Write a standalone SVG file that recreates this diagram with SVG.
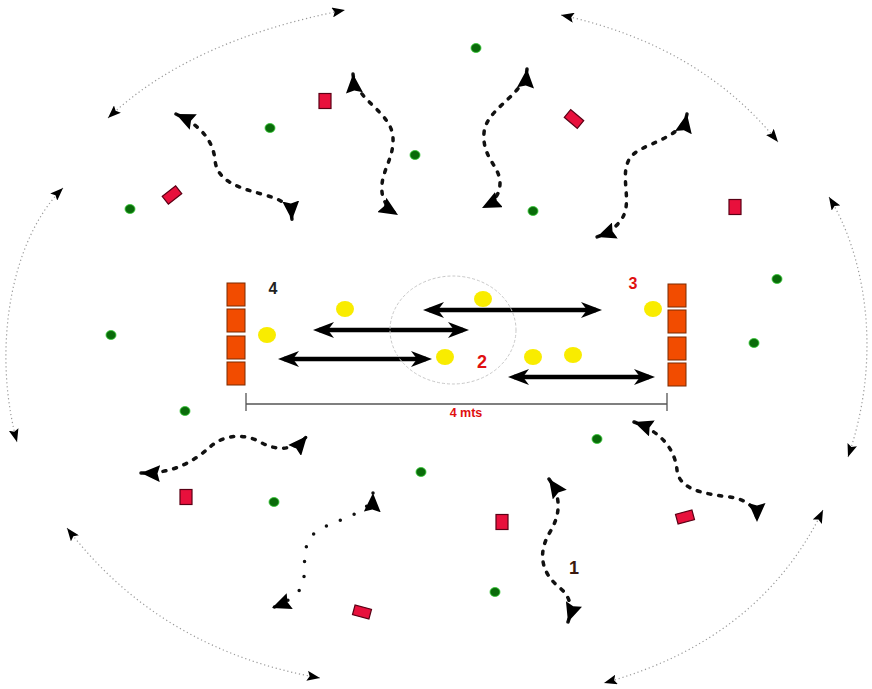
<svg xmlns="http://www.w3.org/2000/svg" width="872" height="689" viewBox="0 0 872 689">
<defs>
<style>
.arc{fill:none;stroke:#999;stroke-width:1.2;stroke-dasharray:1.2 2.8;marker-start:url(#sm);marker-end:url(#sm)}
.wave{fill:none;stroke:#111;stroke-width:3.5;stroke-dasharray:3 8;stroke-linecap:round;marker-start:url(#big);marker-end:url(#big)}
.dots{fill:none;stroke:#111;stroke-width:3.5;stroke-dasharray:0 15;stroke-linecap:round;marker-start:url(#big);marker-end:url(#big)}
.dbl{fill:none;stroke:#000;stroke-width:4.5;marker-start:url(#dh);marker-end:url(#dh)}
.cone{fill:#F24C00;stroke:#7a2a00;stroke-width:1}
.ball{fill:#F9EC00}
.dot{fill:#0a6b0a;stroke:#33cc33;stroke-width:0.8}
.mk{fill:#E8103C;stroke:#5a0015;stroke-width:1.2}
.lbl{font-family:"Liberation Sans",Arial,sans-serif;font-weight:bold;text-anchor:middle}
</style>
<marker id="sm" viewBox="0 0 13 10" refX="13" refY="5" markerWidth="13" markerHeight="10" markerUnits="userSpaceOnUse" orient="auto-start-reverse"><path d="M0,0 L13,5 L0,10 L2.5,5 z" fill="#000"/></marker>
<marker id="big" viewBox="0 0 19 17" refX="19" refY="8.5" markerWidth="19" markerHeight="17" markerUnits="userSpaceOnUse" orient="auto-start-reverse"><path d="M0,0 L19,8.5 L0,17 L2.5,8.5 z" fill="#000"/></marker>
<marker id="dh" viewBox="0 0 21 16" refX="15" refY="8" markerWidth="21" markerHeight="16" markerUnits="userSpaceOnUse" orient="auto-start-reverse"><path d="M0,0 L21,8 L0,16 L6,8 z" fill="#000"/></marker>
</defs>
<rect width="872" height="689" fill="#fff"/>

<g id="connectors">
<g id="outer-arcs">
<path class="arc" d="M108,118 Q190,40 345,10"/>
<path class="arc" d="M63,188 C10,240 -8,350 17,442"/>
<path class="arc" d="M67,528 Q160,650 320,678"/>
<path class="arc" d="M561,15 Q700,45 778,142"/>
<path class="arc" d="M829,197 C862,250 885,350 848,457"/>
<path class="arc" d="M823,510 Q760,640 604,683"/>
</g>
<g id="runs">
<path class="wave" d="M176,114 C200,125 213,140 215,160 C217,182 240,188 265,195 C283,200 291,205 292,220"/>
<path class="wave" d="M353,74 C355,100 392,112 393,138 C394,160 380,172 382,192 C383,203 390,210 398,215"/>
<path class="wave" d="M527,69 C525,95 486,108 484,133 C482,158 500,166 500,183 C500,196 492,203 482,208"/>
<path class="wave" d="M687,114 C682,140 640,143 630,158 C620,173 630,195 625,212 C621,225 608,233 597,237"/>
<path class="wave" d="M141,473 C175,474 195,460 210,447 C222,436 242,432 260,442 C278,452 295,450 307,436"/>
<path class="dots" d="M373,493 C372,518 322,520 310,538 C301,552 307,575 302,586 C297,596 285,603 272,608"/>
<path class="wave" d="M549,479 C560,495 562,512 550,532 C538,552 540,572 560,588 C572,598 572,610 568,622"/>
<path class="wave" d="M634,422 C662,432 675,450 677,470 C679,490 705,494 730,497 C748,500 757,508 757,522"/>
</g>
<g id="passes">
<path class="dbl" d="M429,310 L596,310"/>
<path class="dbl" d="M319,330 L463,330"/>
<path class="dbl" d="M284,359 L426,359"/>
<path class="dbl" d="M514,377 L649,377"/>
</g>
</g>

<g id="zone">
<ellipse cx="453" cy="330" rx="63" ry="54" fill="none" stroke="#c8c8c8" stroke-width="1" stroke-dasharray="3 2"/>
</g>

<g id="measure">
<path d="M246,404 L667,404 M246,393 V411 M667,393 V411" fill="none" stroke="#555" stroke-width="1.3"/>
<text class="lbl" x="466" y="417" font-size="12.5" fill="#e01010">4 mts</text>
</g>

<g id="cones-left">
<rect class="cone" x="227" y="283" width="18" height="23"/>
<rect class="cone" x="227" y="309" width="18" height="23"/>
<rect class="cone" x="227" y="336" width="18" height="23"/>
<rect class="cone" x="227" y="362" width="18" height="23"/>
</g>
<g id="cones-right">
<rect class="cone" x="668" y="284" width="18" height="23"/>
<rect class="cone" x="668" y="310" width="18" height="23"/>
<rect class="cone" x="668" y="337" width="18" height="23"/>
<rect class="cone" x="668" y="363" width="18" height="23"/>
</g>

<g id="balls">
<ellipse class="ball" cx="345" cy="309" rx="9" ry="8"/>
<ellipse class="ball" cx="267" cy="335" rx="9" ry="8"/>
<ellipse class="ball" cx="483" cy="299" rx="9" ry="8"/>
<ellipse class="ball" cx="445" cy="357" rx="9" ry="8"/>
<ellipse class="ball" cx="533" cy="357" rx="9" ry="8"/>
<ellipse class="ball" cx="573" cy="355" rx="9" ry="8"/>
<ellipse class="ball" cx="653" cy="309" rx="9" ry="8"/>
</g>

<g id="players">
<ellipse class="dot" cx="476" cy="48" rx="5" ry="4.5"/>
<ellipse class="dot" cx="270" cy="128" rx="5" ry="4.5"/>
<ellipse class="dot" cx="415" cy="155" rx="5" ry="4.5"/>
<ellipse class="dot" cx="130" cy="209" rx="5" ry="4.5"/>
<ellipse class="dot" cx="533" cy="211" rx="5" ry="4.5"/>
<ellipse class="dot" cx="111" cy="335" rx="5" ry="4.5"/>
<ellipse class="dot" cx="777" cy="279" rx="5" ry="4.5"/>
<ellipse class="dot" cx="754" cy="343" rx="5" ry="4.5"/>
<ellipse class="dot" cx="185" cy="411" rx="5" ry="4.5"/>
<ellipse class="dot" cx="597" cy="439" rx="5" ry="4.5"/>
<ellipse class="dot" cx="421" cy="472" rx="5" ry="4.5"/>
<ellipse class="dot" cx="274" cy="502" rx="5" ry="4.5"/>
<ellipse class="dot" cx="495" cy="592" rx="5" ry="4.5"/>
</g>

<g id="markers">
<rect class="mk" x="319" y="93.5" width="12" height="15"/>
<rect class="mk" x="163.5" y="190" width="17" height="10" transform="rotate(-38 172 195)"/>
<rect class="mk" x="565.5" y="114" width="17" height="10" transform="rotate(40 574 119)"/>
<rect class="mk" x="729" y="199.5" width="12" height="15"/>
<rect class="mk" x="180" y="489.5" width="12" height="15"/>
<rect class="mk" x="353.5" y="607" width="17" height="10" transform="rotate(15 362 612)"/>
<rect class="mk" x="496" y="514.5" width="12" height="15"/>
<rect class="mk" x="676.5" y="512" width="17" height="10" transform="rotate(-15 685 517)"/>
</g>

<g id="labels">
<text class="lbl" x="273" y="294" font-size="16" fill="#222">4</text>
<text class="lbl" x="633" y="289" font-size="16" fill="#e01010">3</text>
<text class="lbl" x="482" y="368" font-size="18" fill="#e01010">2</text>
<text class="lbl" x="574" y="574" font-size="18" fill="#3a1a10">1</text>
</g>
</svg>
